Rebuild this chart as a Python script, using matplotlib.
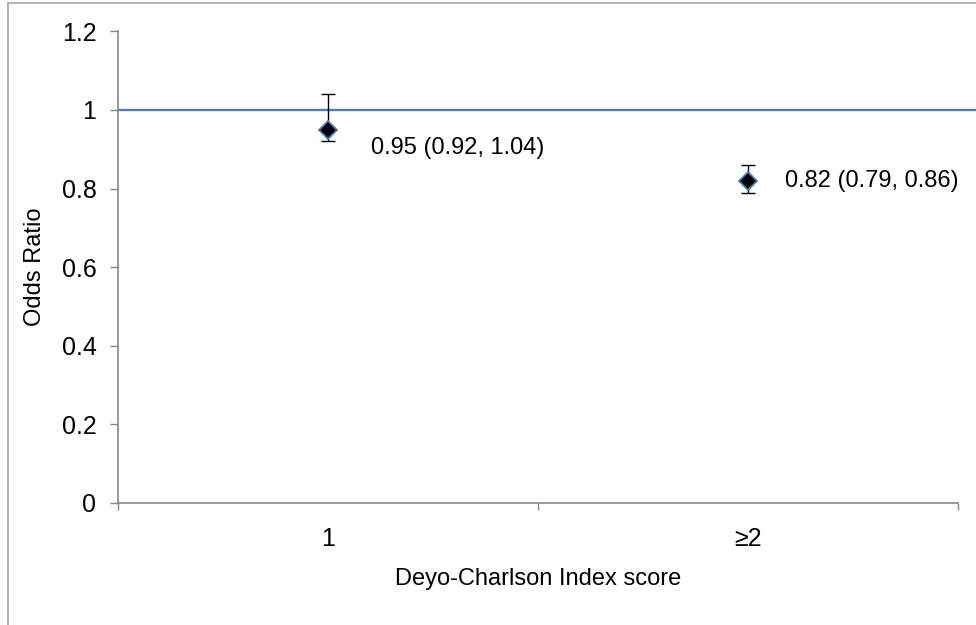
import matplotlib
matplotlib.use('Agg')
import matplotlib.pyplot as plt
from matplotlib.lines import Line2D

# Data
categories = ['1', '≥2']
odds = [0.95, 0.82]
ci_low = [0.92, 0.79]
ci_high = [1.04, 0.86]
labels = ['0.95 (0.92, 1.04)', '0.82 (0.79, 0.86)']
reference = 1.0

plt.rcParams['font.family'] = ['Liberation Sans', 'DejaVu Sans']

fig = plt.figure(figsize=(9.76, 6.25), dpi=100)
ax = fig.add_axes([0.1209, 0.1952, 0.8607, 0.7546])

x = [1, 2]
yerr = [[o - l for o, l in zip(odds, ci_low)], [h - o for o, h in zip(odds, ci_high)]]

# reference line at OR = 1 (runs past the axis end as in the original)
ax.axhline(reference, xmin=0, xmax=1.03, color='#4A7EBB', lw=1.7, clip_on=False, zorder=2)

ax.errorbar(x, odds, yerr=yerr, fmt='none', ecolor='black', elinewidth=1,
            capsize=4.7, capthick=1, zorder=3)
ax.plot(x, odds, linestyle='none', marker='D', markersize=9.5,
        markerfacecolor='black', markeredgecolor='#4A7EBB', markeredgewidth=1.3, zorder=4)

# point labels
offsets = [(31, -13.4), (26.6, 0)]
for xi, yi, txt, off in zip(x, odds, labels, offsets):
    ax.annotate(txt, (xi, yi), xytext=off, textcoords='offset points',
                ha='left', va='center', fontsize=17)

ax.set_xlim(0.5, 2.5)
ax.set_ylim(0, 1.2)
ax.set_yticks([0, 0.2, 0.4, 0.6, 0.8, 1.0, 1.2])
ax.set_yticklabels(['0', '0.2', '0.4', '0.6', '0.8', '1', '1.2'])

# tick marks at category boundaries, labels at category centres
ax.set_xticks([0.5, 1.5, 2.5])
ax.set_xticklabels([])
ax.set_xticks(x, minor=True)
ax.set_xticklabels(categories, minor=True)
ax.tick_params(axis='x', which='major', length=5, width=1, color='#868686', direction='out')
ax.tick_params(axis='x', which='minor', length=0, pad=17, labelsize=18)
ax.tick_params(axis='y', length=5.5, width=1, color='#868686', direction='out', pad=10, labelsize=18)

for side in ['top', 'right']:
    ax.spines[side].set_visible(False)
for side in ['left', 'bottom']:
    ax.spines[side].set_color('#868686')
    ax.spines[side].set_linewidth(1.2)

ax.set_ylabel('Odds Ratio', fontsize=17, va='center')
ax.yaxis.set_label_coords(-0.0988, 0.5)
ax.set_xlabel('Deyo-Charlson Index score', fontsize=17, va='center')
ax.xaxis.set_label_coords(0.5, -0.161)

# chart-area border (cut off on the right and bottom in the original)
bx = 8 / 976
by = 1 - 3 / 625
fig.add_artist(Line2D([bx, bx], [0, by], transform=fig.transFigure, color='#A6A6A6', lw=1.2))
fig.add_artist(Line2D([bx, 1], [by, by], transform=fig.transFigure, color='#A6A6A6', lw=1.2))

fig.savefig('out.png', dpi=100)
